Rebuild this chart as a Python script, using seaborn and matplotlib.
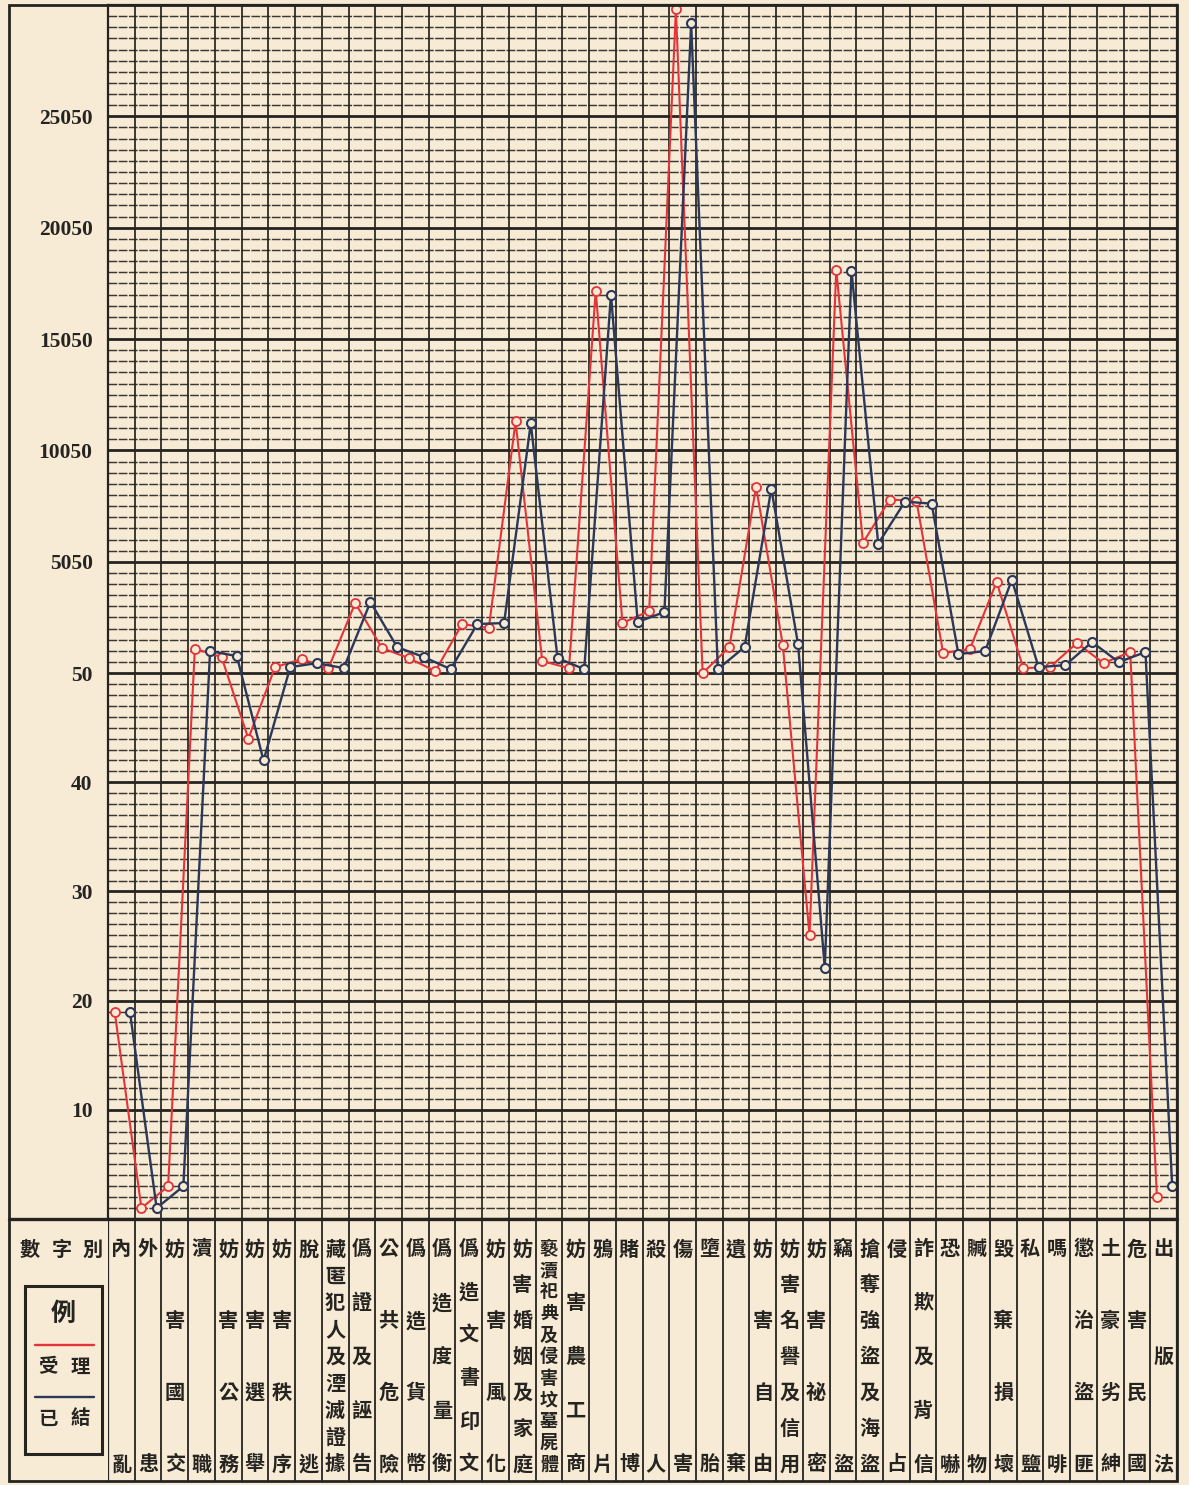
import numpy as np
import pandas as pd
import matplotlib
matplotlib.use("Agg")
import matplotlib.pyplot as plt
import seaborn as sns
from matplotlib.patches import Rectangle
from matplotlib.ticker import NullLocator

# ---- data ----
categories = [
    "內亂", "外患", "妨害國交", "瀆職", "妨害公務", "妨害選舉", "妨害秩序", "脫逃",
    "藏匿犯人及湮滅證據", "僞證及誣告", "公共危險", "僞造貨幣", "僞造度量衡",
    "僞造文書印文", "妨害風化", "妨害婚姻及家庭", "褻瀆祀典及侵害坟墓屍體",
    "妨害農工商", "鴉片", "賭博", "殺人", "傷害", "墮胎", "遺棄", "妨害自由",
    "妨害名譽及信用", "妨害祕密", "竊盜", "搶奪強盜及海盜", "侵占", "詐欺及背信",
    "恐嚇", "贓物", "毀棄損壞", "私鹽", "嗎啡", "懲治盜匪", "土豪劣紳", "危害民國",
    "出版法",
]
received = [
    19, 1, 3, 1150, 770, 44, 320, 680, 275, 3200, 1180, 725, 140, 2255, 2075,
    11350, 590, 275, 17230, 2300, 2840, 29850, 50, 1220, 8425, 1310, 26, 18155,
    5905, 7840, 7795, 950, 1130, 4150, 275, 320, 1400, 500, 995, 2,
]
concluded = [
    19, 1, 3, 1040, 815, 42, 320, 500, 275, 3245, 1220, 770, 230, 2255, 2300,
    11265, 725, 230, 17050, 2345, 2795, 29220, 230, 1220, 8335, 1355, 23, 18110,
    5860, 7750, 7660, 905, 1040, 4240, 320, 410, 1445, 545, 995, 3,
]
tick_values = [10, 20, 30, 40, 50, 5050, 10050, 15050, 20050, 25050]
tick_labels = [str(v) for v in tick_values]
series_names = ["受理", "已結"]
legend_title = "例"
header_text = "數字別"

PAPER = "#f7ebd5"
INK = "#262421"
RED = "#e3343a"
BLUE = "#2b3858"

# broken scale: 0-50 linear by 1, then 500 per grid step (upper rows a bit taller)
STRETCH = 1.02


def fwd(v):
    v = np.asarray(v, dtype=float)
    return np.where(v <= 50, v, 50 + (v - 50) / 500.0 * STRETCH)


def inv(u):
    u = np.asarray(u, dtype=float)
    return np.where(u <= 50, u, 50 + (u - 50) / STRETCH * 500.0)


sns.set_theme(style="white", rc={"axes.facecolor": PAPER, "figure.facecolor": PAPER})
plt.rcParams["font.family"] = ["Noto Sans CJK TC", "DejaVu Sans"]

W, H = 1189, 1485
fig = plt.figure(figsize=(W / 100, H / 100), dpi=100)

left_px, right_px = 108, 1177
top_px, plot_bot_px, tab_bot_px = 5, 1219, 1481
frame_left_px = 9

ax = fig.add_axes([left_px / W, 1 - plot_bot_px / H,
                   (right_px - left_px) / W, (plot_bot_px - top_px) / H])
tab = fig.add_axes([left_px / W, 1 - tab_bot_px / H,
                    (right_px - left_px) / W, (tab_bot_px - plot_bot_px) / H])

n = len(categories)
idx = np.arange(n)
df_rec = pd.DataFrame({"x": idx + 0.25, "value": received})
df_con = pd.DataFrame({"x": idx + 0.82, "value": concluded})

sns.lineplot(data=df_rec, x="x", y="value", ax=ax, color=RED, lw=1.5, sort=False,
             marker="o", markersize=6.5, markerfacecolor=PAPER,
             markeredgecolor=RED, markeredgewidth=1.3, zorder=4)
sns.lineplot(data=df_con, x="x", y="value", ax=ax, color=BLUE, lw=1.7, sort=False,
             marker="o", markersize=6.5, markerfacecolor=PAPER,
             markeredgecolor=BLUE, markeredgewidth=1.5, zorder=5)

ax.set_yscale("function", functions=(fwd, inv))
ax.set_ylim(0, 30050)
ax.set_xlim(0, n)

# graph-paper grid: every unit below 50, every 500 above
low_rows = list(range(1, 51))
high_rows = [50 + 500 * k for k in range(1, 60)]
for v in low_rows + high_rows:
    major = (v <= 50 and v % 10 == 0) or (v > 50 and (v - 50) % 5000 == 0)
    ax.axhline(v, color=INK, lw=2.0 if major else 1.05,
               ls="-" if major else (0, (6, 1)), alpha=1.0 if major else 0.9, zorder=1)
for i in range(1, n):
    ax.axvline(i, color=INK, lw=1.25, zorder=1)

ax.set_xticks([])
ax.set_yticks(tick_values)
ax.set_yticklabels(tick_labels, fontfamily="Liberation Serif", fontweight="bold",
                   fontsize=15.5, color=INK)
ax.yaxis.set_minor_locator(NullLocator())
ax.tick_params(axis="y", length=0, pad=11)
ax.set_xlabel("")
ax.set_ylabel("")
for s in ax.spines.values():
    s.set_color(INK)
    s.set_linewidth(1.6)

# ---- category table ----
tab.set_xlim(0, n)
tab.set_ylim(0, 1)
tab.set_xticks([])
tab.set_yticks([])
for s in tab.spines.values():
    s.set_visible(False)

col_px = (right_px - left_px) / n


def tx(px):
    return (px - left_px) / col_px


def ty(py):
    return (tab_bot_px - py) / (tab_bot_px - plot_bot_px)


for i in range(0, n + 1):
    tab.plot([i, i], [0, 1], color=INK, lw=1.3 if 0 < i < n else 1.6)
tab.plot([tx(frame_left_px), n], [1, 1], color=INK, lw=2.4, clip_on=False)

y_top, y_bot = ty(1249), ty(1464)
for i, label in enumerate(categories):
    chars = list(label)
    fs = 14.5 if len(chars) <= 9 else 13
    ys = np.linspace(y_top, y_bot, len(chars)) if len(chars) > 1 else [y_top]
    for ch, yy in zip(chars, ys):
        tab.text(i + 0.5, yy, ch, ha="center", va="center", fontsize=fs,
                 color=INK, fontweight="bold")

# header column
for ch, px in zip(header_text, [30, 62, 93]):
    tab.text(tx(px), ty(1249), ch, ha="center", va="center", fontsize=14.5,
             color=INK, fontweight="bold", clip_on=False)

tab.add_patch(Rectangle((tx(25), ty(1454)), tx(102) - tx(25), ty(1286) - ty(1454),
                        fill=False, edgecolor=INK, lw=2.2, clip_on=False))
tab.text(tx(63), ty(1314), legend_title, ha="center", va="center", fontsize=18,
         color=INK, fontweight="bold", clip_on=False)
for name, color, ly, ty_text in [(series_names[0], RED, 1345, 1367),
                                  (series_names[1], BLUE, 1397, 1419)]:
    tab.plot([tx(35), tx(94)], [ty(ly), ty(ly)], color=color, lw=1.7, clip_on=False)
    for ch, px in zip(name, [48, 80]):
        tab.text(tx(px), ty(ty_text), ch, ha="center", va="center", fontsize=14,
                 color=INK, fontweight="bold", clip_on=False)

# outer frame
fig.add_artist(Rectangle((frame_left_px / W, 1 - tab_bot_px / H),
                         (right_px - frame_left_px) / W, (tab_bot_px - top_px) / H,
                         transform=fig.transFigure, fill=False, edgecolor=INK, lw=2.0))

fig.savefig("out.png", dpi=100, facecolor=PAPER)
